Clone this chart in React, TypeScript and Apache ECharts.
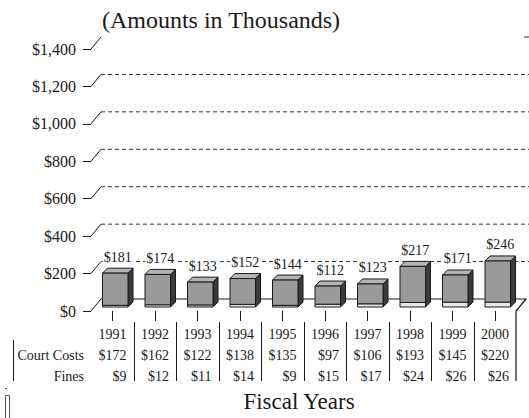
import React, { useEffect, useRef } from "react";
import * as echarts from "echarts";

const years = ["1991", "1992", "1993", "1994", "1995", "1996", "1997", "1998", "1999", "2000"];
const courtCosts = [172, 162, 122, 138, 135, 97, 106, 193, 145, 220];
const fines = [9, 12, 11, 14, 9, 15, 17, 24, 26, 26];
const yTicks = [0, 200, 400, 600, 800, 1000, 1200, 1400];

const SERIF = '"Liberation Serif", "Times New Roman", serif';
const INK = "#1a1a1a";

export default function App() {
  const ref = useRef<HTMLDivElement>(null);

  useEffect(() => {
    if (!ref.current) return;
    const chart = echarts.init(ref.current, undefined, { renderer: "svg" });
    const totals = years.map((_, i) => courtCosts[i] + fines[i]);

    const DX = 10; // wall depth
    const DY = -12;
    const BDX = 5; // bar depth
    const BDY = -5;

    const option: any = {
      animation: false,
      backgroundColor: "#ffffff",
      grid: { left: 91, right: 13, top: 49, bottom: 107 },
      xAxis: {
        type: "category",
        data: years,
        boundaryGap: true,
        axisLine: { show: false },
        axisLabel: { show: false },
        axisTick: { show: true, alignWithLabel: true, interval: 0, length: 10, lineStyle: { color: INK } },
        splitLine: { show: false },
      },
      yAxis: {
        type: "value",
        min: 0,
        max: 1400,
        interval: 200,
        axisLine: { show: false },
        axisTick: { show: true, length: 8, lineStyle: { color: INK } },
        splitLine: { show: false },
        axisLabel: {
          margin: 15,
          color: INK,
          fontFamily: SERIF,
          fontSize: 16,
          formatter: (v: number) => "$" + v.toLocaleString("en-US"),
        },
      },
      series: [
        {
          type: "custom",
          name: "frame",
          z: 1,
          silent: true,
          clip: false,
          data: yTicks.map((v) => [0, v]),
          encode: { x: 0, y: 1 },
          renderItem: (params: any, api: any) => {
            const v = api.value(1);
            const cs = params.coordSys;
            const y = api.coord([0, v])[1];
            const L = cs.x;
            const R = cs.x + cs.width;
            const children: any[] = [
              {
                type: "line",
                shape: { x1: L, y1: y, x2: L + DX, y2: y + DY },
                style: { stroke: INK, lineWidth: 1 },
              },
            ];
            if (v === 0) {
              children.push({
                type: "polyline",
                shape: { points: [[L + DX, y + DY], [R + DX, y + DY], [R, y], [R, y + 70]] },
                style: { stroke: INK, lineWidth: 1.2, fill: "none" },
              });
            } else if (v < 1400) {
              children.push({
                type: "line",
                shape: { x1: L + DX, y1: y + DY, x2: 529, y2: y + DY },
                style: { stroke: "#333", lineWidth: 1, lineDash: [4, 3] },
              });
            } else {
              children.push({
                type: "line",
                shape: { x1: R + 8, y1: y + DY, x2: 529, y2: y + DY },
                style: { stroke: "#333", lineWidth: 1 },
              });
            }
            return { type: "group", children };
          },
        },
        {
          type: "custom",
          name: "bars",
          z: 3,
          clip: false,
          data: years.map((_, i) => [i, fines[i], courtCosts[i], totals[i]]),
          encode: { x: 0, y: 3 },
          renderItem: (params: any, api: any) => {
            const idx = api.value(0);
            const f = api.value(1);
            const t = api.value(3);
            const base = api.coord([idx, 0]);
            const pf = api.coord([idx, f]);
            const pt = api.coord([idx, t]);
            const band = api.size([1, 0])[0];
            const w = band * 0.6;
            const ox = 3;
            const oy = -4;
            const x0 = base[0] - w / 2 + ox;
            const yB = base[1] + oy;
            const yF = pf[1] + oy;
            const yT = pt[1] + oy;
            return {
              type: "group",
              children: [
                {
                  type: "polygon",
                  shape: { points: [[x0 + w, yT], [x0 + w + BDX, yT + BDY], [x0 + w + BDX, yB + BDY], [x0 + w, yB]] },
                  style: { fill: "#3a3a3a", stroke: INK, lineWidth: 1 },
                },
                {
                  type: "polygon",
                  shape: { points: [[x0, yT], [x0 + w, yT], [x0 + w + BDX, yT + BDY], [x0 + BDX, yT + BDY]] },
                  style: { fill: "#b4b4b4", stroke: INK, lineWidth: 1 },
                },
                {
                  type: "rect",
                  shape: { x: x0, y: yF, width: w, height: yB - yF },
                  style: { fill: "#e6e6e6", stroke: INK, lineWidth: 1 },
                },
                {
                  type: "rect",
                  shape: { x: x0, y: yT, width: w, height: yF - yT },
                  style: { fill: "#9a9a9a", stroke: INK, lineWidth: 1 },
                },
                {
                  type: "text",
                  style: {
                    text: "$" + t,
                    x: x0 + w / 2 + BDX / 2,
                    y: yT - 16,
                    align: "center",
                    verticalAlign: "middle",
                    font: `14px ${SERIF}`,
                    fill: INK,
                    backgroundColor: "#ffffff",
                    padding: [0, 1],
                  },
                },
              ],
            };
          },
        },
      ],
    };

    chart.setOption(option);

    const centers = years.map((y) => chart.convertToPixel({ xAxisIndex: 0 }, y) as number);
    const band = centers[1] - centers[0];
    const rowY = [334, 355, 376];
    const font14 = `14px ${SERIF}`;
    const graphics: any[] = [];

    graphics.push({
      type: "text",
      x: 221,
      y: 20,
      style: { text: "(Amounts in Thousands)", font: `24px ${SERIF}`, fill: INK, align: "center", verticalAlign: "middle" },
    });
    graphics.push({
      type: "text",
      x: 299,
      y: 401,
      style: { text: "Fiscal Years", font: `23px ${SERIF}`, fill: INK, align: "center", verticalAlign: "middle" },
    });
    graphics.push({
      type: "text",
      x: 84,
      y: rowY[1],
      style: { text: "Court Costs", font: font14, fill: INK, align: "right", verticalAlign: "middle" },
    });
    graphics.push({
      type: "text",
      x: 84,
      y: rowY[2],
      style: { text: "Fines", font: font14, fill: INK, align: "right", verticalAlign: "middle" },
    });
    years.forEach((yr, i) => {
      const right = centers[i] + band / 2 - 7;
      const vals = [yr, "$" + courtCosts[i], "$" + fines[i]];
      vals.forEach((txt, r) => {
        graphics.push({
          type: "text",
          x: right,
          y: rowY[r],
          style: { text: txt, font: font14, fill: INK, align: "right", verticalAlign: "middle" },
        });
      });
      if (i < years.length - 1) {
        const xd = Math.round(centers[i] + band / 2) + 0.5;
        graphics.push({
          type: "line",
          shape: { x1: xd, y1: 322, x2: xd, y2: 381 },
          style: { stroke: INK, lineWidth: 1 },
        });
      }
    });
    graphics.push({
      type: "line",
      shape: { x1: 13.5, y1: 340, x2: 13.5, y2: 381 },
      style: { stroke: INK, lineWidth: 1 },
    });
    graphics.push({
      type: "rect",
      shape: { x: 5.5, y: 395.5, width: 4, height: 24 },
      style: { fill: "none", stroke: "#555", lineWidth: 1 },
    });
    graphics.push({
      type: "line",
      shape: { x1: 5, y1: 388.5, x2: 7, y2: 388.5 },
      style: { stroke: "#555", lineWidth: 1 },
    });

    chart.setOption({ graphic: graphics });

    return () => chart.dispose();
  }, []);

  return (
    <div
      ref={ref}
      style={{ position: "fixed", left: 0, top: 0, width: 529, height: 418, background: "#ffffff" }}
    />
  );
}
